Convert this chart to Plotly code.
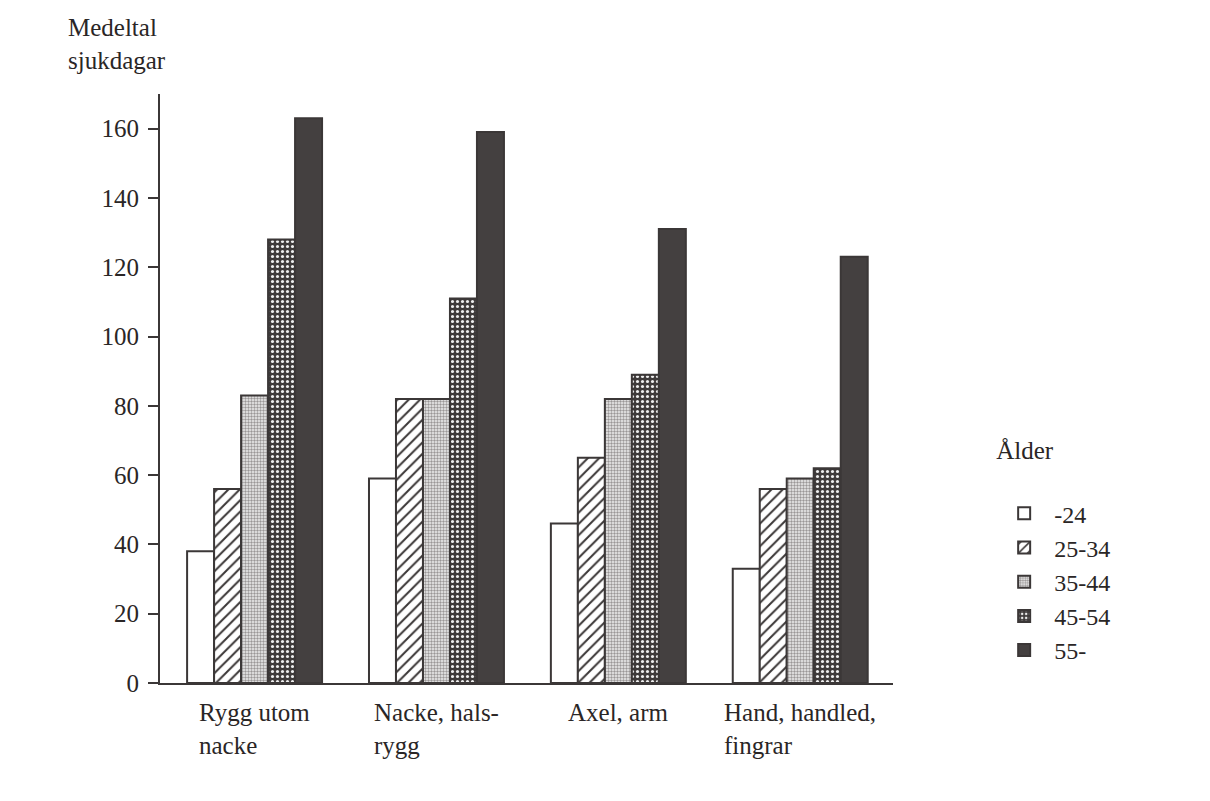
import plotly.graph_objects as go

# ---- data ----
categories = ["Rygg utom nacke", "Nacke, halsrygg", "Axel, arm", "Hand, handled, fingrar"]
tick_labels = ["Rygg utom<br>nacke", "Nacke, hals-<br>rygg", "Axel, arm", "Hand, handled,<br>fingrar"]
age_groups = ["-24", "25-34", "35-44", "45-54", "55-"]
v_24 = [38, 59, 46, 33]
v_25_34 = [56, 82, 65, 56]
v_35_44 = [83, 82, 82, 59]
v_45_54 = [128, 111, 89, 62]
v_55 = [163, 159, 131, 123]
y_ticks = [0, 20, 40, 60, 80, 100, 120, 140, 160]
y_title = "Medeltal<br>sjukdagar"
legend_title = "Ålder"

series = [v_24, v_25_34, v_35_44, v_45_54, v_55]

DARK = "#3b3737"
TEXT = "#2a2626"
FONT = "Liberation Serif"

styles = [
    dict(color="white", pattern=dict(shape="")),
    dict(color="white", pattern=dict(shape="/", fgcolor=DARK, bgcolor="white", size=8, solidity=0.25, fillmode="replace")),
    dict(color="white", pattern=dict(shape=".", fgcolor="#9a9696", bgcolor="#f0f0f0", size=3, solidity=0.5, fillmode="replace")),
    dict(color=DARK, pattern=dict(shape=".", fgcolor="#eeeeee", bgcolor="#3e3a3a", size=5, solidity=0.3, fillmode="replace")),
    dict(color="#444040", pattern=dict(shape="")),
]

fig = go.Figure()
for name, vals, st in zip(age_groups, series, styles):
    fig.add_trace(go.Bar(
        x=categories, y=vals, name=name,
        marker=dict(color=st["color"], pattern=st["pattern"],
                    line=dict(color=DARK, width=2)),
    ))

# category labels (left-aligned lines, block centred under group)
for cat, lab in zip(categories, tick_labels):
    fig.add_annotation(x=cat, y=0, xref="x", yref="y", text=lab, showarrow=False,
                       xanchor="center", yanchor="top", align="left", yshift=-14,
                       font=dict(family=FONT, size=25, color=TEXT))

# y-axis title
fig.add_annotation(x=0, y=1, xref="paper", yref="paper", text=y_title, showarrow=False,
                   xanchor="left", yanchor="bottom", align="left", xshift=-94, yshift=18,
                   font=dict(family=FONT, size=25, color=TEXT))

fig.update_layout(
    width=1202, height=793,
    margin=dict(l=152, r=317, t=86, b=118),
    paper_bgcolor="white", plot_bgcolor="white",
    barmode="group", bargap=0.258, bargroupgap=0,
    font=dict(family=FONT, size=25, color=TEXT),
    showlegend=True,
    legend=dict(
        title=dict(text=legend_title + "<br> ", font=dict(family=FONT, size=25), side="top"),
        x=1.138, y=0.436, xanchor="left", yanchor="top",
        font=dict(family=FONT, size=24), bgcolor="rgba(0,0,0,0)",
        itemwidth=50, tracegroupgap=0,
    ),
    xaxis=dict(
        range=[-0.52, 3.51], showline=True, linecolor=DARK, linewidth=2,
        showticklabels=False, ticks="", showgrid=False, zeroline=False,
    ),
    yaxis=dict(
        range=[0, 170], tickvals=y_ticks, showline=True, linecolor=DARK, linewidth=2,
        ticks="outside", ticklen=10, tickwidth=2, tickcolor=DARK,
        showgrid=False, zeroline=False, ticklabelstandoff=4,
        tickfont=dict(family=FONT, size=25, color=TEXT),
    ),
)

fig.write_html("out.html")
